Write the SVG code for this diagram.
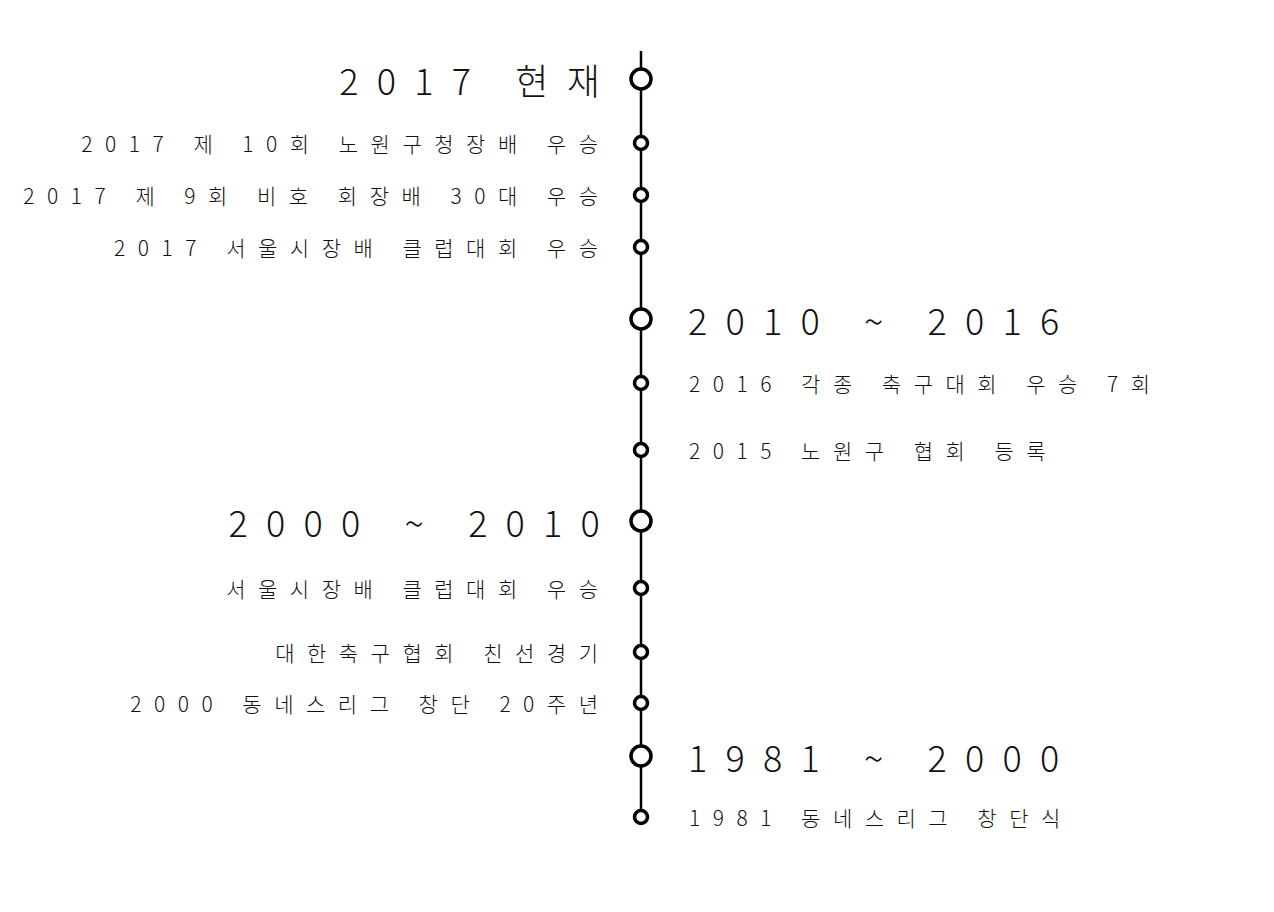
<svg xmlns="http://www.w3.org/2000/svg" width="1274" height="912" viewBox="0 0 1274 912">
<style>
  text { font-family: "Noto Sans CJK KR", "Noto Sans", sans-serif; fill: #111; font-weight: 300; }
  .h { font-size: 36px; letter-spacing: 18.2px; }
  .s { font-size: 21px; letter-spacing: 12.5px; }
  .l { text-anchor: end; }
  .big { fill: #fff; stroke: #000; stroke-width: 3.5; }
  .dot { fill: #fff; stroke: #000; stroke-width: 3.5; }
  .axis { stroke: #000; stroke-width: 2.5; fill: none; }
</style>
<rect width="1274" height="912" fill="#fff"/>
<g id="connectors">
  <line class="axis" x1="641" y1="51" x2="641" y2="817"/>
</g>
<g id="n2017"><circle class="big" cx="641" cy="79" r="10"/><text class="h l" x="618" y="95">2017 현재</text></g>
<g id="e1"><circle class="dot" cx="641" cy="143" r="6.5"/><text class="s l" x="610.5" y="152">2017 제 10회 노원구청장배 우승</text></g>
<g id="e2"><circle class="dot" cx="641" cy="195" r="6.5"/><text class="s l" x="610.5" y="204">2017 제 9회 비호 회장배 30대 우승</text></g>
<g id="e3"><circle class="dot" cx="641" cy="247" r="6.5"/><text class="s l" x="610.5" y="256">2017 서울시장배 클럽대회 우승</text></g>
<g id="n2010"><circle class="big" cx="641" cy="319" r="10"/><text class="h" x="688" y="335">2010 ~ 2016</text></g>
<g id="e4"><circle class="dot" cx="641" cy="383" r="6.5"/><text class="s" x="689" y="392">2016 각종 축구대회 우승 7회</text></g>
<g id="e5"><circle class="dot" cx="641" cy="450" r="6.5"/><text class="s" x="689" y="459">2015 노원구 협회 등록</text></g>
<g id="n2000"><circle class="big" cx="641" cy="521" r="10"/><text class="h l" x="618" y="537">2000 ~ 2010</text></g>
<g id="e6"><circle class="dot" cx="641" cy="588" r="6.5"/><text class="s l" x="610.5" y="597">서울시장배 클럽대회 우승</text></g>
<g id="e7"><circle class="dot" cx="641" cy="652" r="6.5"/><text class="s l" x="610.5" y="661">대한축구협회 친선경기</text></g>
<g id="e8"><circle class="dot" cx="641" cy="703" r="6.5"/><text class="s l" x="610.5" y="712">2000 동네스리그 창단 20주년</text></g>
<g id="n1981"><circle class="big" cx="641" cy="756" r="10"/><text class="h" x="688" y="772">1981 ~ 2000</text></g>
<g id="e9"><circle class="dot" cx="641" cy="817" r="6.5"/><text class="s" x="689" y="826">1981 동네스리그 창단식</text></g>
</svg>
